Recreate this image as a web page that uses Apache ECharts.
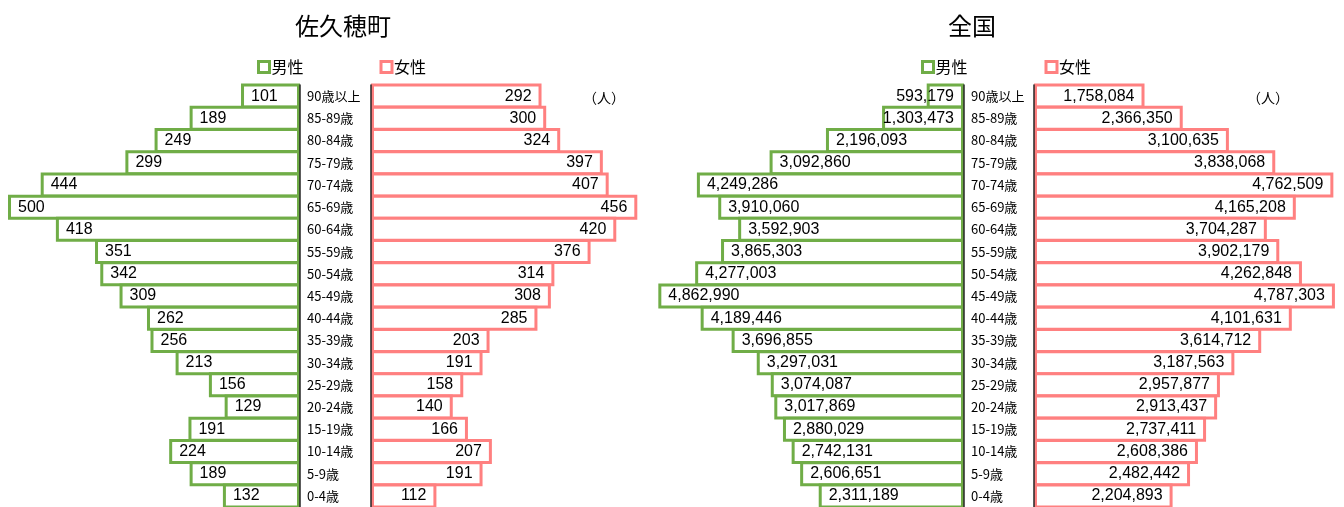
<!DOCTYPE html>
<html><head><meta charset="utf-8">
<script src="https://cdn.jsdelivr.net/npm/echarts@6/dist/echarts.min.js"></script>
<style>html,body{margin:0;padding:0;background:#fff}#c{width:1344px;height:507px}</style>
</head><body><div id="c"></div>
<script>
const ageGroups = ['90歳以上','85-89歳','80-84歳','75-79歳','70-74歳','65-69歳','60-64歳','55-59歳','50-54歳','45-49歳','40-44歳','35-39歳','30-34歳','25-29歳','20-24歳','15-19歳','10-14歳','5-9歳','0-4歳'];
const sakuhoMale = [101,189,249,299,444,500,418,351,342,309,262,256,213,156,129,191,224,189,132];
const sakuhoFemale = [292,300,324,397,407,456,420,376,314,308,285,203,191,158,140,166,207,191,112];
const japanMale = [593179,1303473,2196093,3092860,4249286,3910060,3592903,3865303,4277003,4862990,4189446,3696855,3297031,3074087,3017869,2880029,2742131,2606651,2311189];
const japanFemale = [1758084,2366350,3100635,3838068,4762509,4165208,3704287,3902179,4262848,4787303,4101631,3614712,3187563,2957877,2913437,2737411,2608386,2482442,2204893];
const titles = ['佐久穂町','全国'];
const legendNames = ['男性','女性'];
const unitLabel = '（人）';

const GREEN = '#70AD47', PINK = '#FF8080';
const CJK = '"Noto Sans CJK JP", sans-serif';
const NUM = '"Liberation Sans", Arial, sans-serif';
const fmt = v => String(v).replace(/\B(?=(\d{3})+(?!\d))/g, ',');

const LOCAL_MAX = 500, NAT_MAX = 4900000;
const LOCAL_W = 292, NAT_W = 308;
const TOP = 85, H = 422;

const grids = [
  {left: 8, top: TOP, width: LOCAL_W, height: H},
  {left: 371, top: TOP, width: LOCAL_W, height: H},
  {left: 964 - NAT_W, top: TOP, width: NAT_W, height: H},
  {left: 1034, top: TOP, width: NAT_W, height: H}
];
const maxes = [LOCAL_MAX, LOCAL_MAX, NAT_MAX, NAT_MAX];

const xAxes = grids.map((g, i) => ({
  gridIndex: i, type: 'value', min: 0, max: maxes[i], inverse: i % 2 === 0, show: false
}));
const yAxes = grids.map((g, i) => ({
  gridIndex: i, type: 'category', data: ageGroups, inverse: true,
  position: i % 2 === 0 ? 'right' : 'left', z: 5,
  axisLine: {show: true, lineStyle: {color: '#262626', width: 1.5}},
  axisTick: {show: false}, splitLine: {show: false},
  axisLabel: i % 2 === 0 ? {show: true, margin: 7, fontSize: 13, color: '#000', fontFamily: CJK} : {show: false}
}));

function makeSeries(name, values, idx, isMale) {
  const pxPer = grids[idx].width / maxes[idx];
  return {
    name, type: 'bar', xAxisIndex: idx, yAxisIndex: idx,
    barWidth: 25,
    itemStyle: {color: '#fff', borderColor: isMale ? GREEN : PINK, borderWidth: 3},
    label: {
      show: true, position: isMale ? 'insideLeft' : 'insideRight', distance: 10,
      fontSize: 16, color: '#000', fontFamily: NUM,
      formatter: p => fmt(p.value)
    },
    data: values.map(v => {
      const textW = fmt(v).length * 8;
      if (isMale && v * pxPer < textW + 22) {
        return {value: v, label: {position: 'insideRight', distance: 10}};
      }
      return v;
    })
  };
}

const option = {
  animation: false,
  backgroundColor: '#fff',
  title: [
    {text: titles[0], left: 290, top: 9, textStyle: {fontSize: 24, fontWeight: 'normal', color: '#000', fontFamily: CJK}},
    {text: titles[1], left: 943, top: 9, textStyle: {fontSize: 24, fontWeight: 'normal', color: '#000', fontFamily: CJK}},
    {text: unitLabel, left: 578, top: 86, textStyle: {fontSize: 14, fontWeight: 'normal', color: '#000', fontFamily: CJK}},
    {text: unitLabel, left: 1242, top: 86, textStyle: {fontSize: 14, fontWeight: 'normal', color: '#000', fontFamily: CJK}}
  ],
  legend: [
    {data: legendNames, left: 252, top: 54, itemWidth: 11, itemHeight: 11, itemGap: 76, icon: 'rect',
     itemStyle: {borderWidth: 3}, selectedMode: false,
     textStyle: {fontSize: 16, color: '#000', fontFamily: CJK, padding: [0, 0, 0, -3]}},
    {data: legendNames, left: 916, top: 54, itemWidth: 11, itemHeight: 11, itemGap: 77, icon: 'rect',
     itemStyle: {borderWidth: 3}, selectedMode: false,
     textStyle: {fontSize: 16, color: '#000', fontFamily: CJK, padding: [0, 0, 0, -3]}}
  ],
  grid: grids,
  xAxis: xAxes,
  yAxis: yAxes,
  series: [
    makeSeries(legendNames[0], sakuhoMale, 0, true),
    makeSeries(legendNames[1], sakuhoFemale, 1, false),
    makeSeries(legendNames[0], japanMale, 2, true),
    makeSeries(legendNames[1], japanFemale, 3, false)
  ]
};
const chart = echarts.init(document.getElementById('c'));
chart.setOption(option);
</script></body></html>
